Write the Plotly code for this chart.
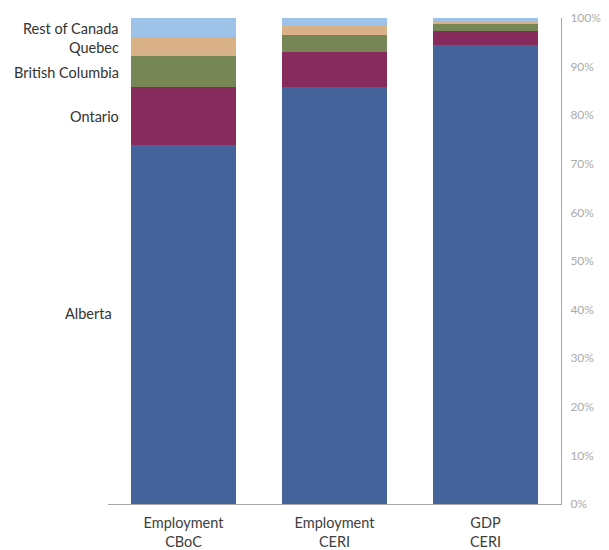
import plotly.graph_objects as go

categories = ["Employment<br>CBoC", "Employment<br>CERI", "GDP<br>CERI"]
regions = ["Alberta", "Ontario", "British Columbia", "Quebec", "Rest of Canada"]
alberta = [73.9, 85.8, 94.4]
ontario = [11.9, 7.2, 2.9]
british_columbia = [6.4, 3.5, 1.4]
quebec = [3.8, 1.9, 0.6]
rest_of_canada = [4.0, 1.6, 0.7]
y_ticks = [0, 10, 20, 30, 40, 50, 60, 70, 80, 90, 100]
y_tick_labels = [f"{v}%" for v in y_ticks]

series = [alberta, ontario, british_columbia, quebec, rest_of_canada]
colors = ["#44639B", "#862B5C", "#768654", "#D8B188", "#9EC3E8"]

fig = go.Figure()
for name, vals, col in zip(regions, series, colors):
    fig.add_trace(go.Bar(x=categories, y=vals, name=name, marker_color=col,
                         marker_line_width=0, width=0.69))

# labels at the middle of each segment of the first bar
cum = 0
label_font = dict(family="Lato, sans-serif", size=14.5, color="#333333")
for name, vals in zip(regions, series):
    mid = cum + vals[0] / 2
    cum += vals[0]
    shift = 0
    if name == "Alberta":
        mid = 39.5
        shift = -7
    fig.add_annotation(x=0.029, xref="paper", y=mid, yref="y", text=name,
                       showarrow=False, xanchor="right", yanchor="middle",
                       xshift=shift, yshift=-1, font=label_font)

fig.update_layout(
    barmode="stack",
    width=601, height=542,
    margin=dict(l=100, r=48, t=10, b=46, autoexpand=False),
    plot_bgcolor="white", paper_bgcolor="white",
    showlegend=False,
    font=dict(family="Lato, sans-serif"),
)
fig.update_xaxes(showline=True, linecolor="#A6A6A6", linewidth=1, ticks="",
                 automargin=False, ticklabelstandoff=6,
                 tickfont=dict(size=14.5, color="#404040"), showgrid=False)
fig.update_yaxes(side="right", range=[0, 100], tickvals=y_ticks, ticktext=y_tick_labels,
                 showline=True, linecolor="#A6A6A6", linewidth=1, showgrid=False,
                 ticks="", ticklen=0, zeroline=False, automargin=False,
                 ticklabelstandoff=6,
                 tickfont=dict(size=12, color="#ABABAB"))

fig.write_html("out.html")
